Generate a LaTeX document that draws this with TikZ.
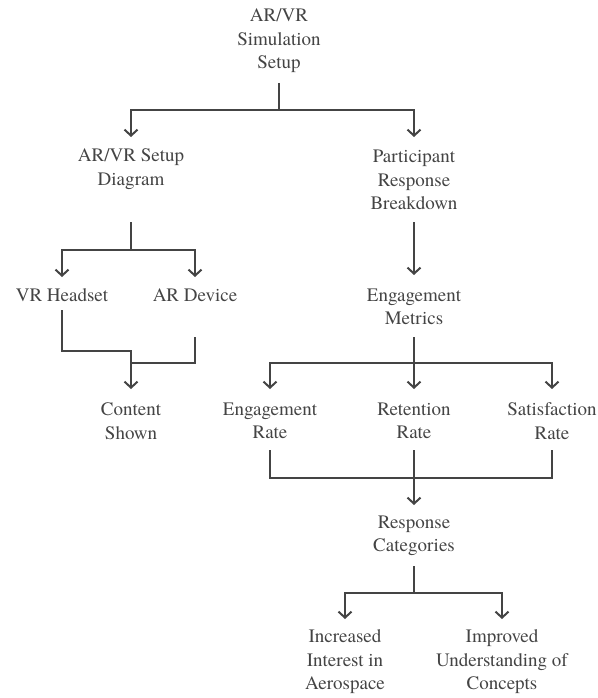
\documentclass[tikz,border=0pt]{standalone}
\usepackage{fontspec}
\setmainfont{TeX Gyre Termes}
\usetikzlibrary{arrows.meta}
\definecolor{ink}{HTML}{444444}
\begin{document}
\begin{tikzpicture}[x=1pt,y=-1pt,
  lbl/.style={align=center,inner sep=0pt,text=ink,font=\rmfamily\fontsize{19}{23.5}\selectfont},
  ln/.style={draw=ink,line width=2pt},
  arr/.style={ln,-{Straight Barb[length=6pt,width=13pt,line width=2pt]}}]
\useasboundingbox (0,0) rectangle (597,698);
\node[lbl] (top) at (279,41) {AR/VR\\Simulation\\Setup};
\node[lbl] (setup) at (131,169) {AR/VR Setup\\Diagram};
\node[lbl] (part) at (414,180) {Participant\\Response\\Breakdown};
\node[lbl] (vr) at (62,295) {VR Headset};
\node[lbl] (ar) at (195,295) {AR Device};
\node[lbl] (content) at (131,421) {Content\\Shown};
\node[lbl] (em) at (414,307) {Engagement\\Metrics};
\node[lbl] (er) at (270,421) {Engagement\\Rate};
\node[lbl] (rr) at (414,421) {Retention\\Rate};
\node[lbl] (sr) at (552,421) {Satisfaction\\Rate};
\node[lbl] (rc) at (414,536) {Response\\Categories};
\node[lbl] (inc) at (345,662) {Increased\\Interest in\\Aerospace};
\node[lbl] (imp) at (502,662) {Improved\\Understanding of\\Concepts};
% top
\draw[ln] (top |- 0,83) -- (top |- 0,110);
\draw[arr] (top |- 0,110) -| (setup |- 0,137);
\draw[arr] (top |- 0,110) -| (part |- 0,137);
% setup
\draw[ln] (setup |- 0,222) -- (setup |- 0,250);
\draw[arr] (setup |- 0,250) -| (vr |- 0,277);
\draw[arr] (setup |- 0,250) -| (ar |- 0,277);
% content
\draw[ln] (vr |- 0,310) |- (content |- 0,351) -- (content |- 0,363);
\draw[ln] (ar |- 0,337) |- (content |- 0,363);
\draw[arr] (content |- 0,363) -- (content |- 0,389);
% participant
\draw[arr] (part |- 0,222) -- (em |- 0,275);
% metrics
\draw[ln] (em |- 0,337) -- (em |- 0,363);
\draw[arr] (em |- 0,363) -| (er |- 0,389);
\draw[arr] (em |- 0,363) -- (rr |- 0,389);
\draw[arr] (em |- 0,363) -| (sr |- 0,389);
% rates
\draw[ln] (er |- 0,450) |- (rc |- 0,478);
\draw[ln] (sr |- 0,450) |- (rc |- 0,478);
\draw[ln] (rr |- 0,450) -- (rr |- 0,478);
\draw[arr] (rc |- 0,478) -- (rc |- 0,505);
% categories
\draw[ln] (rc |- 0,566) -- (rc |- 0,593);
\draw[arr] (rc |- 0,593) -| (inc |- 0,619);
\draw[arr] (rc |- 0,593) -| (imp |- 0,619);
\end{tikzpicture}
\end{document}
